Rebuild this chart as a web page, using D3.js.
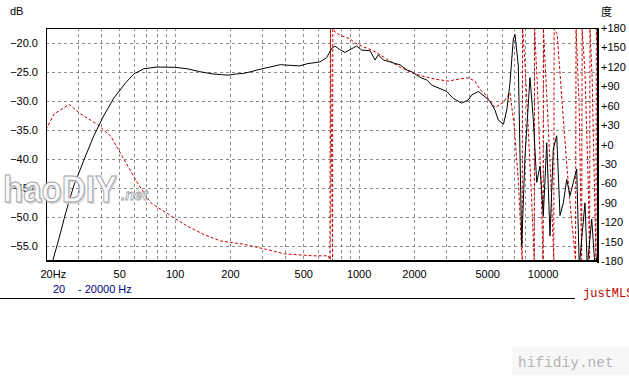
<!DOCTYPE html>
<html>
<head>
<meta charset="utf-8">
<script src="https://cdn.jsdelivr.net/npm/d3@7"></script>
<style>
body { margin: 0; background: #fff; }
svg { display: block; font-family: "Liberation Sans", Arial, sans-serif; }
</style>
</head>
<body>
<div id="chart"></div>
<script>
// magnitude response (black, left axis dB)
const magFreq = [21.3, 23.5, 25.6, 28.3, 32.3, 36.4, 41.1, 46.8, 54.2, 60, 68, 80, 100, 117, 137, 162, 180, 195, 215, 236, 260, 290, 330, 375, 420, 478, 530, 565, 617, 670, 714, 744, 790, 843, 900, 976, 1040, 1153, 1228, 1279, 1362, 1482, 1577, 1679, 1826, 1943, 2068, 2202, 2344, 2496, 2770, 3012, 3271, 3632, 3946, 4118, 4473, 4864, 5176, 5510, 5742, 6130, 6400, 6650, 6930, 7080, 7380, 7700, 8020, 8540, 8900, 9290, 9680, 10090, 10530, 10970, 11430, 11930, 12430, 12960, 13520, 14090, 14680, 15320, 15820, 16310, 17000, 17490, 18490, 19260, 20000];
const magDb = [-58.5, -53.7, -49.2, -44.6, -40.0, -36.0, -32.6, -29.5, -26.9, -25.4, -24.5, -24.2, -24.25, -24.5, -25.0, -25.4, -25.5, -25.6, -25.4, -25.3, -25.0, -24.6, -24.2, -23.8, -23.9, -24.0, -23.6, -23.5, -23.3, -22.6, -21.0, -20.6, -21.2, -21.7, -21.2, -20.6, -21.3, -21.4, -23.0, -22.1, -23.0, -23.3, -23.6, -23.8, -24.7, -25.0, -25.6, -26.1, -26.4, -27.3, -27.9, -28.4, -29.6, -30.4, -29.85, -29.0, -28.4, -29.3, -30.1, -31.6, -33.3, -34.0, -31.4, -26.9, -19.4, -18.6, -24.0, -54.9, -39.5, -26.0, -33.2, -44.0, -41.2, -49.7, -37.2, -53.2, -38.3, -36.0, -49.7, -47.5, -43.5, -46.3, -44.0, -41.7, -58.5, -53.7, -47.5, -58.5, -50.3, -58.5, -56.0];

// phase (red dashed, right axis degrees), wrapped values
const phaseFreq = [20, 22.1, 26.7, 30.9, 38, 44.9, 53.1, 62.7, 74.1, 95.2, 117, 144, 177, 236, 315, 395, 565, 683, 698, 703, 722, 724, 744, 790, 843, 900, 956, 1040, 1153, 1254, 1421, 1643, 1943, 2202, 2601, 3072, 3481, 3946, 4290, 4570, 4864, 5176, 5510, 6114, 6650, 7000, 7400, 7700, 7750, 7780, 8000, 8300, 8700, 9000, 9050, 9400, 9800, 10050, 10100, 10600, 11100, 11500, 11550, 12000, 12800, 13600, 14400, 15100, 15200, 15800, 16300, 16400, 17000, 17700, 18000, 18100, 18600, 19200, 19500, 19600, 20000];
const phaseDeg = [23, 47, 62, 47, 31, 13, -23, -59, -90, -110, -126, -139, -149, -154, -162, -169, -172, -172, -178, 179, -179, 179, 174, 169, 166, 163, 157, 152, 147, 142, 132, 121, 111, 106, 101, 98, 101, 103, 98, 85, 78, 67, 57, 65, 80, 30, -60, -170, -179, 179, 130, 40, -80, -178, 179, 80, -60, -178, 179, 60, -60, -178, 179, 170, 60, -40, -120, -178, 179, 60, -178, 179, 110, -60, -178, 179, 100, -90, -178, 179, 140];

const dbTicks = [-20, -25, -30, -35, -40, -45, -50, -55];
const degTicks = [180, 150, 120, 90, 60, 30, 0, -30, -60, -90, -120, -150, -180];
const freqTicks = [20, 50, 100, 200, 500, 1000, 2000, 5000, 10000];
const freqGrid = [30, 40, 50, 60, 70, 80, 90, 100, 200, 300, 400, 500, 600, 700, 800, 900, 1000, 2000, 3000, 4000, 5000, 6000, 7000, 8000, 9000, 10000];

const width = 629;
const height = 384;
const plotLeft = 46, plotRight = 598, plotTop = 28, plotBottom = 261;

const x = d3.scaleLog().domain([20, 20000]).range([plotLeft, plotRight]);
const yDb = d3.scaleLinear().domain([-57.5, -17.5]).range([plotBottom, plotTop]);
const yDeg = d3.scaleLinear().domain([-180, 180]).range([plotBottom, plotTop]);

const svg = d3.create("svg")
    .attr("width", width)
    .attr("height", height)
    .attr("viewBox", [0, 0, width, height]);

svg.append("defs").append("clipPath")
    .attr("id", "plotclip")
    .append("rect")
    .attr("x", plotLeft).attr("y", plotTop)
    .attr("width", plotRight - plotLeft).attr("height", plotBottom - plotTop);

// grid
const grid = svg.append("g")
    .attr("stroke", "#8c8c8c")
    .attr("stroke-dasharray", "3,3")
    .attr("shape-rendering", "crispEdges");

grid.selectAll(".v")
    .data(freqGrid)
    .join("line")
    .attr("x1", d => Math.round(x(d)) + 0.5)
    .attr("x2", d => Math.round(x(d)) + 0.5)
    .attr("y1", plotTop)
    .attr("y2", plotBottom);

grid.selectAll(".h")
    .data(dbTicks)
    .join("line")
    .attr("x1", plotLeft)
    .attr("x2", plotRight)
    .attr("y1", d => Math.round(yDb(d)) + 0.5)
    .attr("y2", d => Math.round(yDb(d)) + 0.5);

// curves
const curves = svg.append("g").attr("clip-path", "url(#plotclip)");

const phaseLine = d3.line()
    .x((d, i) => x(phaseFreq[i]))
    .y(d => yDeg(d));

curves.append("path")
    .attr("d", phaseLine(phaseDeg))
    .attr("fill", "none")
    .attr("stroke", "#c80000")
    .attr("stroke-width", 1)
    .attr("stroke-dasharray", "3,2");

const magLine = d3.line()
    .x((d, i) => x(magFreq[i]))
    .y(d => yDb(d));

curves.append("path")
    .attr("d", magLine(magDb))
    .attr("fill", "none")
    .attr("stroke", "#000")
    .attr("stroke-width", 1);

// frame
const frame = svg.append("g").attr("stroke", "#000").attr("shape-rendering", "crispEdges");
frame.append("line").attr("x1", plotLeft).attr("x2", plotRight + 1).attr("y1", plotTop + 0.5).attr("y2", plotTop + 0.5);
frame.append("line").attr("x1", plotLeft + 0.5).attr("x2", plotLeft + 0.5).attr("y1", plotTop).attr("y2", plotBottom + 1);
frame.append("line").attr("x1", plotRight).attr("x2", plotRight).attr("y1", plotTop).attr("y2", plotBottom + 2).attr("stroke-width", 2);
frame.append("line").attr("x1", plotLeft).attr("x2", plotRight + 1).attr("y1", plotBottom).attr("y2", plotBottom).attr("stroke-width", 2);

// axes
const axisLeft = svg.append("g")
    .attr("transform", `translate(${plotLeft},0)`)
    .call(d3.axisLeft(yDb).tickValues(dbTicks).tickSize(0).tickPadding(8).tickFormat(d3.format(".1f")));

const axisRight = svg.append("g")
    .attr("transform", `translate(${plotRight + 1},0)`)
    .call(d3.axisRight(yDeg).tickValues(degTicks).tickSize(0).tickPadding(2)
        .tickFormat(d => (d >= 0 ? "+" : "") + d));

const axisBottom = svg.append("g")
    .attr("transform", `translate(0,${plotBottom})`)
    .call(d3.axisBottom(x).tickValues(freqTicks).tickSize(0).tickPadding(9)
        .tickFormat(d => d === 20 ? "20Hz" : String(d)));

[axisLeft, axisRight, axisBottom].forEach(a => {
    a.select(".domain").remove();
    a.selectAll("text")
        .attr("font-family", "'Liberation Sans', Arial, sans-serif")
        .attr("font-size", 11)
        .attr("fill", "#000");
});

axisBottom.selectAll("text")
    .filter(d => d === 20)
    .attr("text-anchor", "start")
    .attr("x", -6);

// unit labels
svg.append("text").attr("x", 10).attr("y", 15).attr("font-size", 11).text("dB");
svg.append("text").attr("x", 601).attr("y", 16).attr("font-size", 11)
    .attr("font-family", "'Noto Sans CJK SC', sans-serif").text("度");

// range line
svg.append("text").attr("x", 53).attr("y", 293).attr("font-size", 11).attr("fill", "#000080").text("20");
svg.append("text").attr("x", 78).attr("y", 293).attr("font-size", 11).attr("fill", "#000080").text("- 20000 Hz");

svg.append("line")
    .attr("x1", 0).attr("x2", 575)
    .attr("y1", 298.5).attr("y2", 298.5)
    .attr("stroke", "#000");

svg.append("text")
    .attr("x", 583).attr("y", 297)
    .attr("font-family", "'Liberation Mono', 'Courier New', monospace")
    .attr("font-size", 12)
    .attr("fill", "#c00000")
    .text("justMLS");

// site marks
svg.append("rect")
    .attr("x", 512).attr("y", 347).attr("width", 117).attr("height", 28)
    .attr("fill", "#f7f7f7");

svg.append("text")
    .attr("x", 518).attr("y", 367)
    .attr("font-family", "'Liberation Mono', 'Courier New', monospace")
    .attr("font-size", 14.5)
    .attr("fill", "#b4b4b4")
    .text("hifidiy.net");

// watermark
const wm = svg.append("g").attr("opacity", 0.92);
wm.append("text")
    .attr("x", 4.5).attr("y", 203.5)
    .attr("font-size", 37)
    .attr("font-weight", "bold")
    .attr("textLength", 114).attr("lengthAdjust", "spacingAndGlyphs")
    .attr("fill", "#d4d4d4")
    .text("haoDIY");
wm.append("text")
    .attr("x", 3).attr("y", 202)
    .attr("font-size", 37)
    .attr("font-weight", "bold")
    .attr("textLength", 114).attr("lengthAdjust", "spacingAndGlyphs")
    .attr("fill", "#f8faff")
    .attr("stroke", "#9a9a9a")
    .attr("stroke-width", 1)
    .text("haoDIY");
wm.append("text")
    .attr("x", 121).attr("y", 200)
    .attr("font-size", 15)
    .attr("font-style", "italic")
    .attr("font-weight", "bold")
    .attr("fill", "#f8faff")
    .attr("stroke", "#9a9a9a")
    .attr("stroke-width", 0.8)
    .text(".net");

document.getElementById("chart").appendChild(svg.node());
</script>
</body>
</html>
